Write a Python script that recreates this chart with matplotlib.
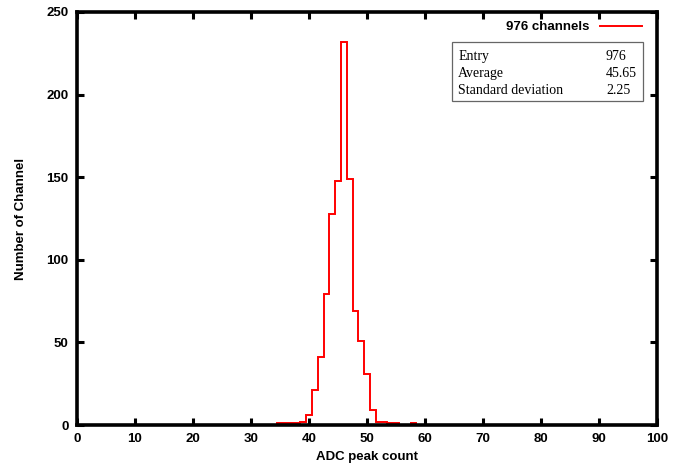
import numpy as np
import matplotlib
matplotlib.use("Agg")
import matplotlib.pyplot as plt
from matplotlib.patches import Rectangle

# ADC peak count histogram (bin centres and counts)
adc_bins = [35, 36, 37, 38, 39, 40, 41, 42, 43, 44, 45, 46, 47, 48, 49, 50, 51, 52, 53, 54, 55, 58]
n_channels = [1, 1, 1, 1, 2, 6, 21, 41, 79, 128, 148, 232, 149, 69, 51, 31, 9, 2, 2, 1, 1, 1]

stat_names = ["Entry", "Average", "Standard deviation"]
stat_values = ["976", "45.65", "2.25"]
legend_label = "976 channels"

xticks = list(range(0, 101, 10))
yticks = list(range(0, 251, 50))

plt.rcParams['font.family'] = ['Liberation Sans', 'DejaVu Sans']

fig = plt.figure(figsize=(6.82, 4.68), dpi=100)
ax = fig.add_axes([77 / 682, 43 / 468, 580 / 682, 413 / 468])

counts = np.zeros(101)
for b, c in zip(adc_bins, n_channels):
    counts[b] = c
edges = np.arange(0, 102) - 0.5
ax.stairs(counts, edges, color="red", linewidth=1.4, label=legend_label)

ax.set_xlim(0, 100)
ax.set_ylim(0, 250)
ax.set_xticks(xticks)
ax.set_yticks(yticks)
for s in ax.spines.values():
    s.set_linewidth(2.6)
ax.tick_params(direction="in", length=5, width=2.2, top=True, right=True,
               labelsize=9.5, pad=6)
for lab in ax.get_xticklabels() + ax.get_yticklabels():
    lab.set_fontweight("bold")
ax.set_xlabel("ADC peak count", fontsize=9.5, fontweight="bold", labelpad=4)
ax.set_ylabel("Number of Channel", fontsize=9.5, fontweight="bold", labelpad=14)

leg = ax.legend(loc="upper right", frameon=False, markerfirst=False,
                prop={"weight": "bold", "size": 9.5}, handlelength=3.2,
                borderaxespad=0.3, bbox_to_anchor=(0.99, 1.0))

# statistics box
ax.add_patch(Rectangle((0.647, 0.785), 0.329, 0.142, transform=ax.transAxes,
                       fill=False, edgecolor="#666666", linewidth=0.9))
row_y = [0.893, 0.851, 0.810]
for name, val, y in zip(stat_names, stat_values, row_y):
    ax.text(0.657, y, name, transform=ax.transAxes, fontsize=10,
            family="Liberation Serif", va="center")
    ax.text(0.912, y, val, transform=ax.transAxes, fontsize=10,
            family="Liberation Serif", va="center")

plt.savefig("out.png", dpi=100)
plt.close(fig)
